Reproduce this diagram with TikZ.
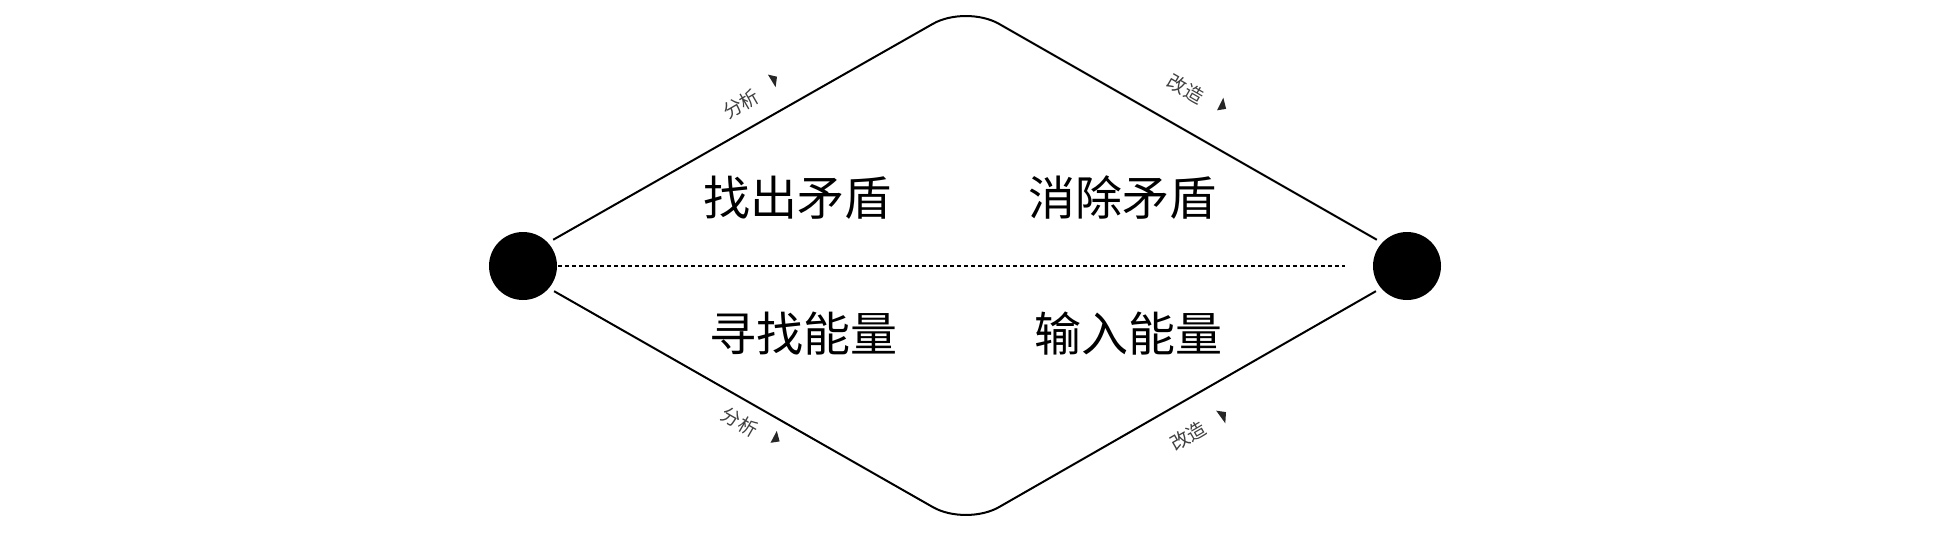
\documentclass[tikz,border=0pt]{standalone}
\usepackage{fontspec}
\newfontfamily\cjk{Noto Sans CJK SC}
\usetikzlibrary{calc}
\begin{document}
\begin{tikzpicture}[x=1pt,y=-1pt,
  dot/.style={circle,fill=black,minimum size=68pt,inner sep=0pt,outer sep=6pt},
  edge/.style={line width=2pt,line join=round,rounded corners=38pt},
  bigtext/.style={font=\cjk\fontsize{47}{56}\selectfont,anchor=base,inner sep=0pt},
  small/.style={font=\cjk\fontsize{19}{22}\selectfont,text=black!75,inner sep=0pt},
  tri/.style={fill=black!85,draw=none}]
\useasboundingbox (0,0) rectangle (1940,536);
\node[dot] (L) at (523,266) {};
\node[dot] (R) at (1407,266) {};
\coordinate (T) at (966,5);
\coordinate (B) at (966,526);
\coordinate (dE) at (1345,266);
\draw[edge] (L.41) -- (T) -- (R.139);
\draw[edge] (L.-39) -- (B) -- (R.-141);
\draw[line width=1.7pt,dash pattern=on 4pt off 3pt] ([xshift=-5pt]L.east) -- (dE);
\node[bigtext] (t1) at (797,215) {找出矛盾};
\node[bigtext] (t2) at (1122,215) {消除矛盾};
\node[bigtext] (t3) at (803,351) {寻找能量};
\node[bigtext] (t4) at (1128,351) {输入能量};
\node[small,rotate=30] (s1) at (741,104) {分析};
\node[small,rotate=-30] (s2) at (1186,89) {改造};
\node[small,rotate=-30] (s3) at (740,422) {分析};
\node[small,rotate=30] (s4) at (1188,436) {改造};
\fill[tri] (767.9,74.6) -- (777,76.7) -- (775.6,87.2) -- cycle;
\fill[tri] (1223.3,97.7) -- (1217,110.3) -- (1226.1,108.9) -- cycle;
\fill[tri] (776.8,430.9) -- (770.5,442.8) -- (779.6,441.4) -- cycle;
\fill[tri] (1216.2,410.7) -- (1226,412.1) -- (1225.3,423.3) -- cycle;
\end{tikzpicture}
\end{document}
